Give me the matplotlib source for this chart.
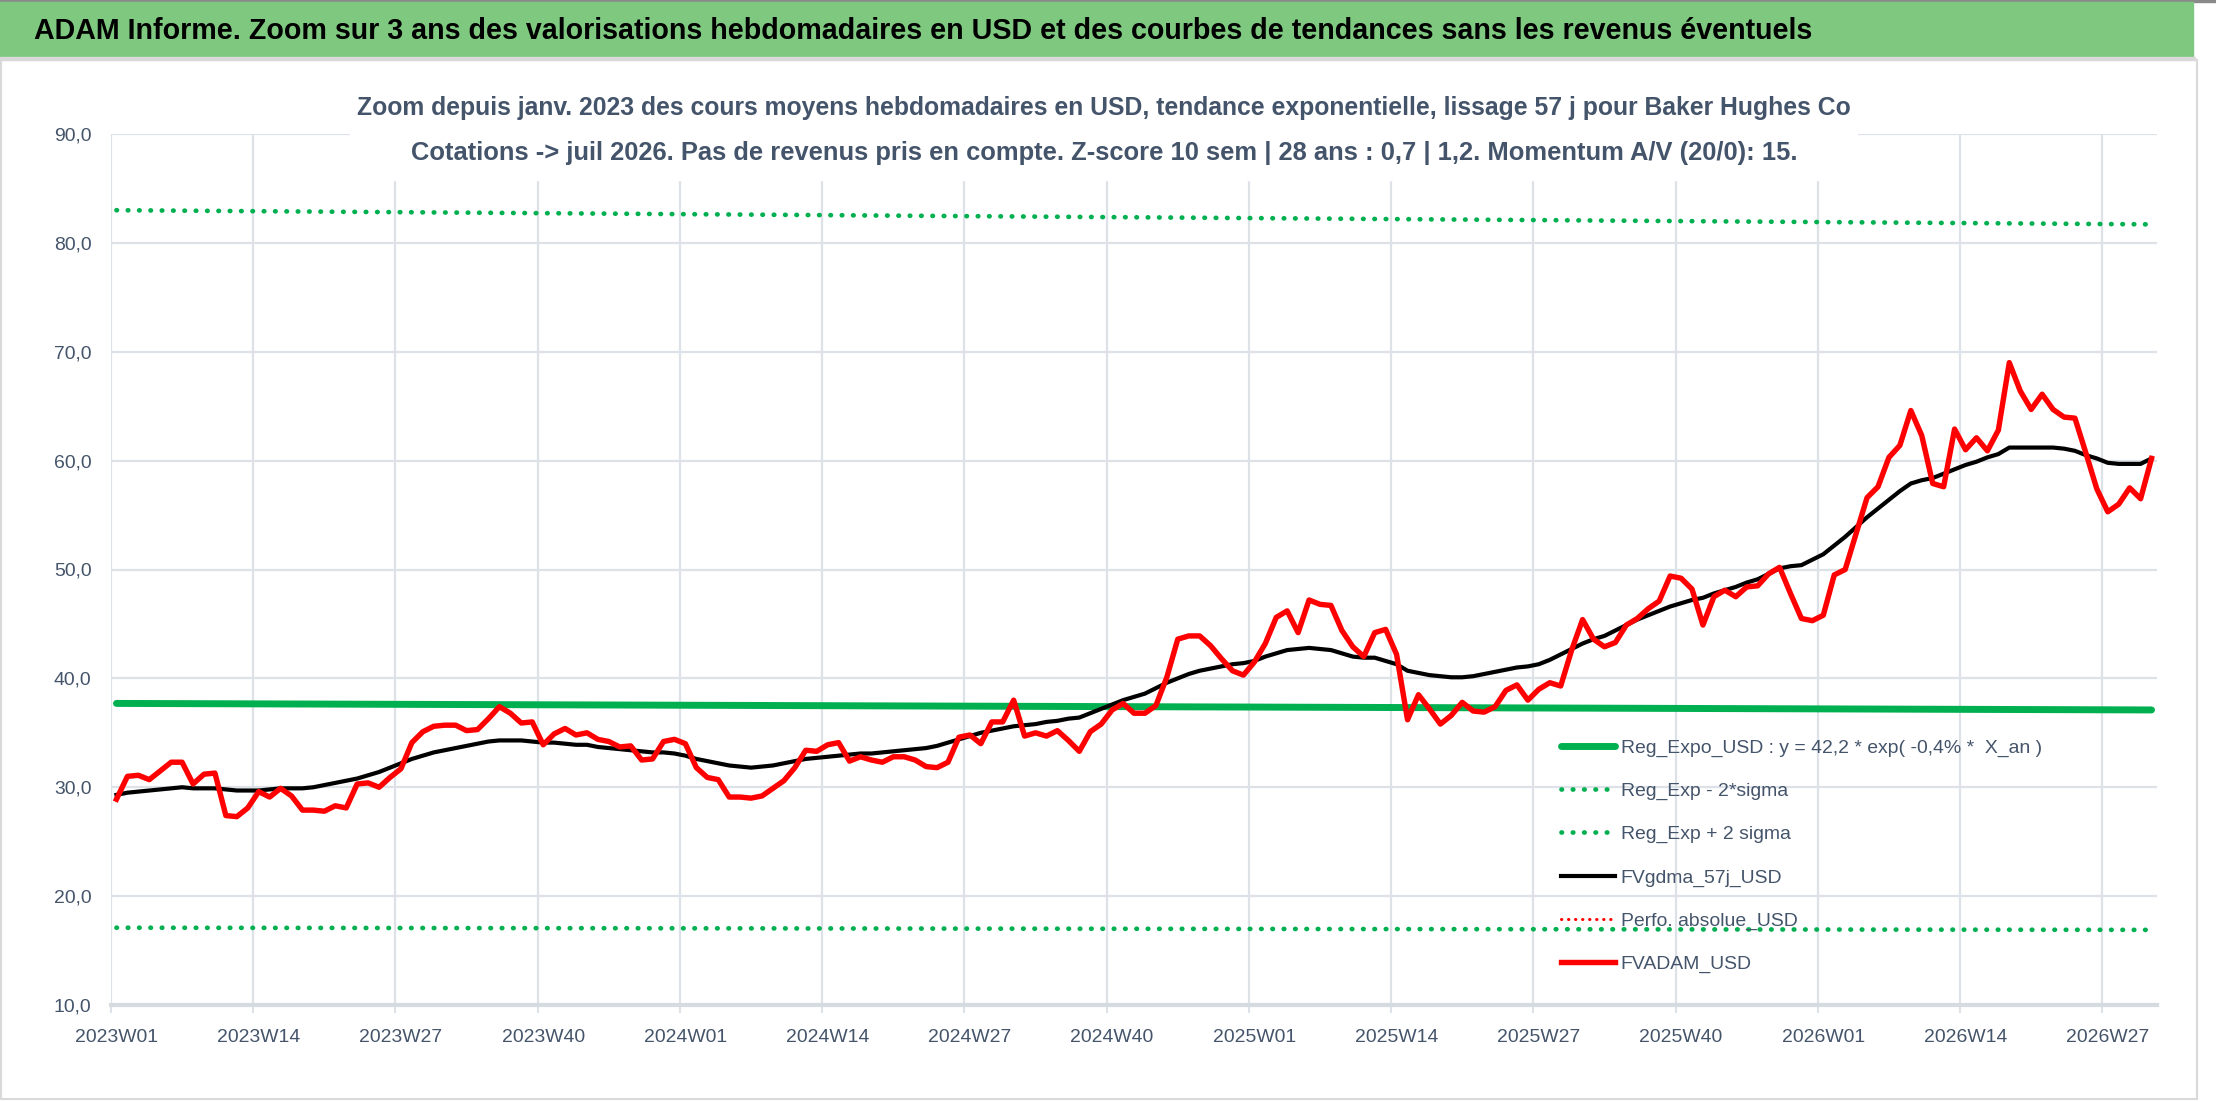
import numpy as np
import matplotlib
matplotlib.use("Agg")
from matplotlib import pyplot as plt
from matplotlib import font_manager
from matplotlib.patches import Rectangle

# semaines 2023W01 -> 2026W31
nb_sem = {2023: 52, 2024: 52, 2025: 52, 2026: 31}
semaines = [f"{a}W{s:02d}" for a in nb_sem for s in range(1, nb_sem[a] + 1)]

# cours moyen hebdo (rouge)
fvadam_usd = [
    28.9, 31.0, 31.1, 30.7, 31.5, 32.3, 32.3, 30.3, 31.2, 31.3,
    27.4, 27.3, 28.1, 29.6, 29.1, 29.9, 29.2, 27.9, 27.9, 27.8,
    28.3, 28.1, 30.3, 30.4, 30.0, 30.9, 31.7, 34.1, 35.1, 35.6,
    35.7, 35.7, 35.2, 35.3, 36.3, 37.4, 36.8, 35.9, 36.0, 33.9,
    34.9, 35.4, 34.8, 35.0, 34.4, 34.2, 33.7, 33.8, 32.5, 32.6,
    34.2, 34.4, 34.0, 31.8, 30.9, 30.7, 29.1, 29.1, 29.0, 29.2,
    29.9, 30.6, 31.8, 33.4, 33.3, 33.9, 34.1, 32.4, 32.8, 32.5,
    32.3, 32.8, 32.8, 32.5, 31.9, 31.8, 32.3, 34.6, 34.8, 34.0,
    36.0, 36.0, 38.0, 34.7, 35.0, 34.7, 35.2, 34.3, 33.3, 35.1,
    35.8, 37.1, 37.7, 36.8, 36.8, 37.5, 40.1, 43.6, 43.9, 43.9,
    43.0, 41.8, 40.7, 40.3, 41.5, 43.2, 45.6, 46.2, 44.2, 47.2,
    46.8, 46.7, 44.4, 42.9, 42.0, 44.2, 44.5, 42.2, 36.2, 38.5,
    37.2, 35.8, 36.6, 37.8, 37.0, 36.9, 37.4, 38.9, 39.4, 38.0,
    39.0, 39.6, 39.3, 42.6, 45.4, 43.6, 42.9, 43.3, 44.9, 45.5,
    46.4, 47.1, 49.4, 49.2, 48.2, 44.9, 47.5, 48.1, 47.5, 48.4,
    48.5, 49.6, 50.2, 47.8, 45.5, 45.3, 45.8, 49.5, 50.0, 53.3,
    56.6, 57.6, 60.3, 61.4, 64.6, 62.3, 57.9, 57.6, 62.9, 61.0,
    62.1, 60.9, 62.8, 69.0, 66.4, 64.7, 66.1, 64.7, 64.0, 63.9,
    60.7, 57.4, 55.3, 56.0, 57.5, 56.5, 60.2,
]

# moyenne mobile 57 j (noir)
fvgdma_57j_usd = [
    29.3, 29.5, 29.6, 29.7, 29.8, 29.9, 30.0, 29.9, 29.9, 29.9,
    29.8, 29.7, 29.7, 29.7, 29.8, 29.9, 29.9, 29.9, 30.0, 30.2,
    30.4, 30.6, 30.8, 31.1, 31.4, 31.8, 32.2, 32.6, 32.9, 33.2,
    33.4, 33.6, 33.8, 34.0, 34.2, 34.3, 34.3, 34.3, 34.2, 34.1,
    34.1, 34.0, 33.9, 33.9, 33.7, 33.6, 33.5, 33.4, 33.3, 33.2,
    33.2, 33.1, 32.9, 32.6, 32.4, 32.2, 32.0, 31.9, 31.8, 31.9,
    32.0, 32.2, 32.4, 32.6, 32.7, 32.8, 32.9, 33.0, 33.1, 33.1,
    33.2, 33.3, 33.4, 33.5, 33.6, 33.8, 34.1, 34.4, 34.7, 35.0,
    35.2, 35.4, 35.6, 35.7, 35.8, 36.0, 36.1, 36.3, 36.4, 36.8,
    37.2, 37.6, 38.0, 38.3, 38.6, 39.1, 39.6, 40.0, 40.4, 40.7,
    40.9, 41.1, 41.3, 41.4, 41.6, 42.0, 42.3, 42.6, 42.7, 42.8,
    42.7, 42.6, 42.3, 42.0, 41.9, 41.9, 41.6, 41.3, 40.7, 40.5,
    40.3, 40.2, 40.1, 40.1, 40.2, 40.4, 40.6, 40.8, 41.0, 41.1,
    41.3, 41.7, 42.2, 42.7, 43.2, 43.6, 43.9, 44.4, 44.9, 45.4,
    45.8, 46.2, 46.6, 46.9, 47.2, 47.4, 47.8, 48.1, 48.4, 48.8,
    49.1, 49.6, 50.1, 50.3, 50.4, 50.9, 51.4, 52.2, 53.0, 53.9,
    54.8, 55.6, 56.4, 57.2, 57.9, 58.2, 58.4, 58.8, 59.2, 59.6,
    59.9, 60.3, 60.6, 61.2, 61.2, 61.2, 61.2, 61.2, 61.1, 60.9,
    60.5, 60.2, 59.8, 59.7, 59.7, 59.7, 60.2,
]

# regression expo et bandes +/- 2 sigma (debut / fin)
reg_sem = [0, 186]
reg_expo_usd = [37.7, 37.1]
reg_moins_2s = [17.1, 16.9]
reg_plus_2s = [83.0, 81.7]

y_ticks = [10, 20, 30, 40, 50, 60, 70, 80, 90]

legendes = [
    "Reg_Expo_USD : y = 42,2 * exp( -0,4% *  X_an )",
    "Reg_Exp - 2*sigma",
    "Reg_Exp + 2 sigma",
    "FVgdma_57j_USD",
    "Perfo. absolue_USD",
    "FVADAM_USD",
]

titre = ("ADAM Informe. Zoom sur 3 ans des valorisations hebdomadaires en USD "
         "et des courbes de tendances sans les revenus éventuels")
sous_titre_1 = ("Zoom depuis janv. 2023 des cours moyens hebdomadaires en USD, "
                "tendance exponentielle, lissage 57 j pour Baker Hughes Co")
sous_titre_2 = ("Cotations -> juil 2026. Pas de revenus pris en compte. "
                "Z-score 10 sem | 28 ans : 0,7 | 1,2. Momentum A/V (20/0): 15.")

# police etroite si dispo
noms = {f.name for f in font_manager.fontManager.ttflist}
if "Liberation Sans Narrow" in noms:
    police, k = "Liberation Sans Narrow", 1.0
else:
    police, k = "Liberation Sans", 0.82
plt.rcParams["font.family"] = [police, "DejaVu Sans"]

W, H = 2216, 1102
gris_txt = "#44546A"
gris_grille = "#DDE1E8"
vert = "#00B050"

fig = plt.figure(figsize=(W / 100, H / 100), dpi=100)
ax = fig.add_axes([111 / W, 1 - 1005 / H, (2157 - 111) / W, (1005 - 134) / H])

x = np.arange(len(fvadam_usd))

ax.plot(reg_sem, reg_expo_usd, color=vert, lw=5, solid_capstyle="round", zorder=2)
ax.plot(reg_sem, reg_moins_2s, color=vert, lw=3.4, linestyle=(0, (0.1, 2.3)),
        dash_capstyle="round", zorder=2)
ax.plot(reg_sem, reg_plus_2s, color=vert, lw=3.4, linestyle=(0, (0.1, 2.3)),
        dash_capstyle="round", zorder=2)
ax.plot(x, fvgdma_57j_usd, color="black", lw=3, zorder=3)
ax.plot([], [], color="red", lw=2.2, linestyle=(0, (0.1, 2.2)), dash_capstyle="round")
ax.plot(x, fvadam_usd, color="red", lw=3.9, solid_joinstyle="round", zorder=4)

ax.set_xlim(-0.5, len(x) - 0.5)
ax.set_ylim(10, 90)

# axes / grille
ax.set_xticks(x[::13])
ax.set_xticklabels(semaines[::13])
ax.set_xticks(x[::13] - 0.5, minor=True)
ax.set_yticks(y_ticks)
ax.set_yticklabels([f"{v:.1f}".replace(".", ",") for v in y_ticks])
ax.tick_params(axis="both", which="major", length=0, colors=gris_txt, labelsize=17 * k)
ax.tick_params(axis="x", which="major", pad=17)
ax.tick_params(axis="y", which="major", pad=14)
ax.tick_params(axis="x", which="minor", length=6, width=1.5, color=gris_grille)
ax.grid(axis="y", which="major", color=gris_grille, lw=1.6)
ax.grid(axis="x", which="minor", color=gris_grille, lw=1.6)
for s in ["top", "right", "left"]:
    ax.spines[s].set_visible(False)
ax.spines["bottom"].set_color("#D6DAE1")
ax.spines["bottom"].set_linewidth(3)
ax.set_axisbelow(True)

leg = ax.legend(legendes, loc="upper left", bbox_to_anchor=(1561 / W, 1 - 739 / H),
                bbox_transform=fig.transFigure, frameon=False, fontsize=17 * k,
                borderpad=0, borderaxespad=0, handlelength=2.8, handletextpad=0.28,
                labelspacing=1.32)
for t in leg.get_texts():
    t.set_color(gris_txt)

# cadre, bandeau vert, titres
fig.patches.append(Rectangle((0, 1 - 2 / H), 1, 2 / H, transform=fig.transFigure,
                             color="#8A8A8A", zorder=1))
fig.patches.append(Rectangle((0, 1 - 57 / H), 2193 / W, 55 / H, transform=fig.transFigure,
                             color="#7EC97F", zorder=1))
fig.patches.append(Rectangle((0, 1 - 60 / H), 2195 / W, 3 / H, transform=fig.transFigure,
                             color="#DADADA", zorder=1))
fig.patches.append(Rectangle((1 / W, 3 / H), 2196 / W, 1 - 63 / H, transform=fig.transFigure,
                             fill=False, ec="#D9D9D9", lw=1.5, zorder=1))
fig.patches.append(Rectangle((350 / W, 1 - 180 / H), (1857 - 350) / W, 118 / H,
                             transform=fig.transFigure, color="white", zorder=1))

t1 = fig.text(34 / W, 1 - 31 / H, titre, ha="left", va="center", fontsize=24 * k,
              fontweight="bold", color="black")
t2 = fig.text(1104 / W, 1 - 108 / H, sous_titre_1, ha="center", va="center",
              fontsize=20 * k, fontweight="bold", color=gris_txt)
t3 = fig.text(1104 / W, 1 - 153 / H, sous_titre_2, ha="center", va="center",
              fontsize=20 * k, fontweight="bold", color=gris_txt)

# ajuste la largeur des titres sur le modele
rend = fig.canvas.get_renderer()
for t, larg in [(t1, 1781), (t2, 1493), (t3, 1385)]:
    w = t.get_window_extent(rend).width
    t.set_fontsize(t.get_fontsize() * larg / w)

fig.savefig("out.png", dpi=100)
